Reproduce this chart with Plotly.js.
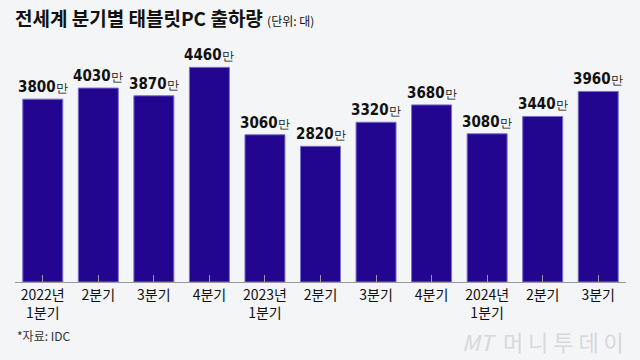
<!DOCTYPE html>
<html>
<head>
<meta charset="utf-8">
<script src="https://cdn.plot.ly/plotly-3.0.1.min.js"></script>
<style>html,body{margin:0;padding:0;background:#f4f5f7;}#chart{width:640px;height:360px;}</style>
</head>
<body>
<div id="chart"></div>
<script>
const categories = ["2022년<br>1분기", "2분기", "3분기", "4분기", "2023년<br>1분기", "2분기", "3분기", "4분기", "2024년<br>1분기", "2분기", "3분기"];
const shipments = [3800, 4030, 3870, 4460, 3060, 2820, 3320, 3680, 3080, 3440, 3960];
const unitSuffix = "만";

const xIdx = categories.map((c, i) => i);

const trace = {
  type: "bar",
  x: xIdx,
  y: shipments,
  marker: { color: "#22068f", line: { color: "#7b6fd0", width: 1 } },
  hoverinfo: "skip"
};

const annotations = shipments.map((v, i) => ({
  x: i, y: v, xref: "x", yref: "y",
  text: "<b>" + v + "</b><span style='font-size:12px;font-weight:normal'>" + unitSuffix + "</span>",
  showarrow: false, yanchor: "bottom", yshift: 1,
  font: { family: "DejaVu Sans Condensed, Liberation Sans Narrow, sans-serif", size: 15, color: "#111" }
}));

annotations.push({
  xref: "paper", yref: "paper", x: 1, y: -0.255, xanchor: "right", yanchor: "middle",
  text: "<i>MT</i>  머 니 투 데 이", showarrow: false,
  font: { family: "Noto Sans CJK KR, sans-serif", size: 22, color: "#d6d8dc" }
});

annotations.push({
  xref: "paper", yref: "paper", x: 0, y: -0.186, xanchor: "left", yanchor: "top",
  text: "*자료: IDC", showarrow: false,
  font: { family: "Noto Sans CJK KR, sans-serif", size: 12, color: "#333" }
});

const layout = {
  width: 640, height: 360,
  paper_bgcolor: "#f4f5f7", plot_bgcolor: "#f4f5f7",
  margin: { l: 15, r: 14, t: 51, b: 78 },
  bargap: 0.28,
  showlegend: false,
  title: {
    text: "<b>전세계 분기별 태블릿PC 출하량</b> <span style='font-size:12px'>(단위: 대)</span>",
    x: 15 / 640, xref: "container", xanchor: "left", y: 0.945, yanchor: "middle",
    font: { family: "Noto Sans CJK KR, sans-serif", size: 19, color: "#111" }
  },
  xaxis: {
    tickmode: "array", tickvals: xIdx, ticktext: categories,
    range: [-0.5, categories.length - 0.5],
    showline: true, linecolor: "#999", linewidth: 1,
    ticks: "inside", ticklen: 7, tickcolor: "#999", tickson: "boundaries",
    tickfont: { family: "Noto Sans CJK KR, sans-serif", size: 14, color: "#111" },
    showgrid: false, zeroline: false, fixedrange: true
  },
  yaxis: { range: [0, 4800], visible: false, showgrid: false, zeroline: false, fixedrange: true },
  annotations: annotations
};

Plotly.newPlot("chart", [trace], layout, { staticPlot: true, displayModeBar: false });
</script>
</body>
</html>
